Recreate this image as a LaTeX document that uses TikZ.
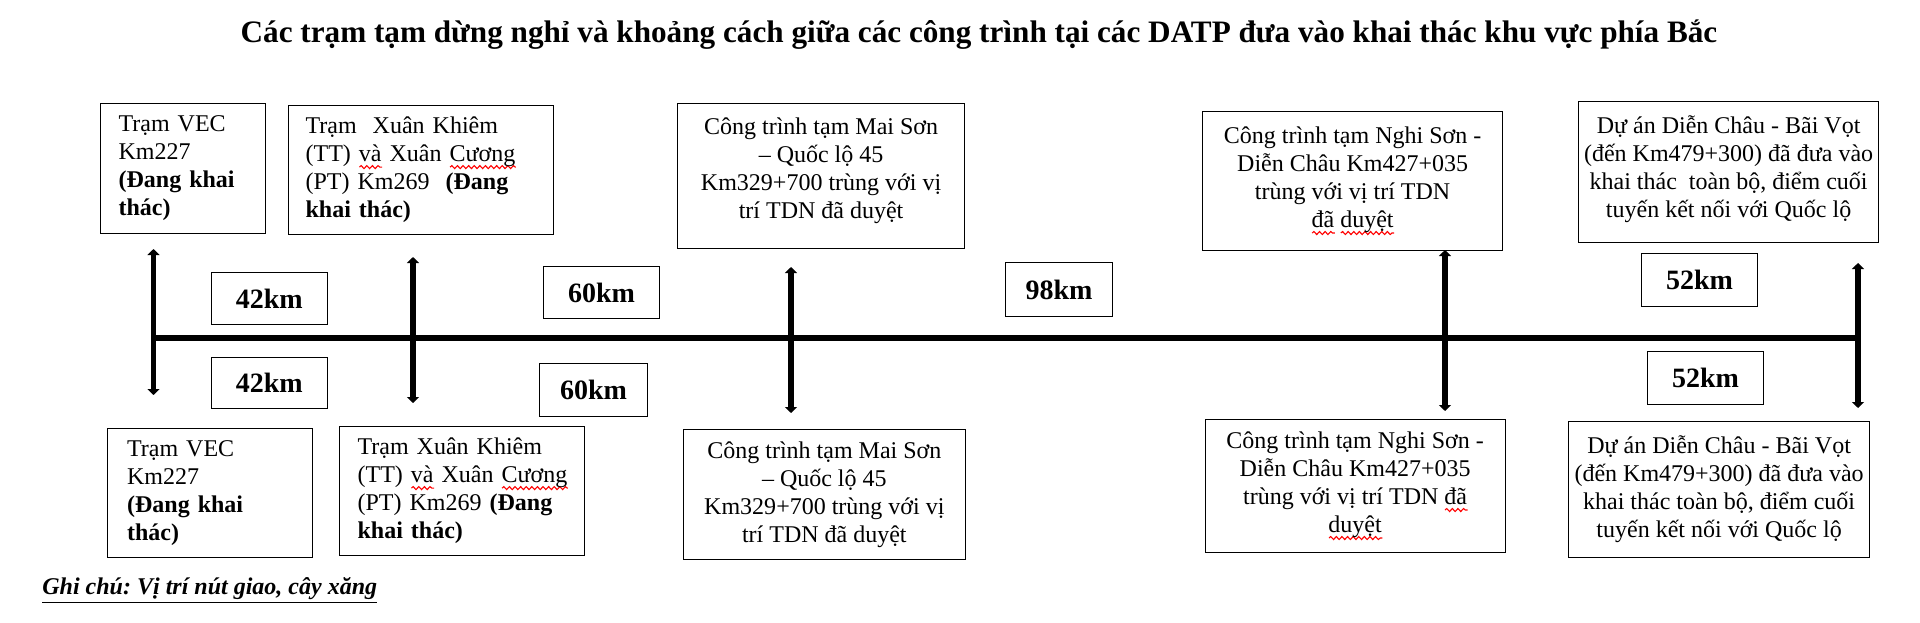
\documentclass[tikz,border=0pt]{standalone}
\usepackage{fontspec}
\setmainfont{Liberation Serif}
\usetikzlibrary{arrows.meta,decorations.pathmorphing}
\frenchspacing

\newsavebox\spellbox
\newcommand\spell[1]{\sbox\spellbox{#1}\rlap{\tikz[baseline=0pt]\draw[red, line width=0.55pt, decorate, decoration={snake, amplitude=0.75pt, segment length=2.8pt}] (0pt,-2.6pt) -- (\wd\spellbox,-2.6pt);}\usebox\spellbox}

\tikzset{
  tram/.style={draw, line width=0.6pt, anchor=north west, inner ysep=0pt, align=left, font=\fontsize{12}{14}\selectfont},
  ctr/.style={draw, line width=0.6pt, anchor=north west, inner sep=0pt, align=center, font=\fontsize{12}{14}\selectfont},
  km/.style={draw, line width=0.6pt, anchor=north west, inner sep=0pt, font=\fontsize{14}{16}\selectfont\bfseries},
  road/.style={line width=2.8pt},
  tick/.style={line width=2.8pt, {Triangle[width=6pt,length=3pt]}-{Triangle[width=6pt,length=3pt]}},
}

\begin{document}
\begin{tikzpicture}[x=0.5pt,y=-0.5pt]
			\fill[white] (0,0) rectangle (1920,622);
			\useasboundingbox (0,0) rectangle (1920,622);
			
			\node[anchor=base, font=\fontsize{15.6}{18}\selectfont\bfseries] (title) at (979,42) {Các trạm tạm dừng nghỉ và khoảng cách giữa các công trình tại các DATP đưa vào khai thác khu vực phía Bắc};
			
			% tram phia tren
			\node[tram, inner xsep=9pt, text width=64.5pt, minimum height=65pt] (vecT) at (100,103) {Trạm VEC\\Km227\\\textbf{(Đang khai}\\\textbf{thác)}};
			\node[tram, inner xsep=8.5pt, text width=115.5pt, minimum height=64.5pt] (xkT) at (288,105) {Trạm\ \ Xuân Khiêm\\\mbox{(TT) \spell{và} Xuân \spell{Cương}}\\(PT) Km269\ \ \textbf{(Đang}\\\textbf{khai thác)}};
			\node[ctr, minimum width=143.5pt, minimum height=72.5pt, text depth=8pt] (msT) at (677,103) {Công trình tạm Mai Sơn\\– Quốc lộ 45\\Km329+700 trùng với vị\\trí TDN đã duyệt};
			\node[ctr, minimum width=150pt, minimum height=69.5pt] (nsT) at (1202,111) {Công trình tạm Nghi Sơn -\\Diễn Châu Km427+035\\trùng với vị trí TDN\\\spell{đã} \spell{duyệt}};
			\node[ctr, minimum width=150pt, minimum height=70.5pt, text depth=6pt] (dcT) at (1578,101) {Dự án Diễn Châu - Bãi Vọt\\(đến Km479+300) đã đưa vào\\khai thác\ \ toàn bộ, điểm cuối\\tuyến kết nối với Quốc lộ};
			
			% tram phia duoi
			\node[tram, inner xsep=10pt, text width=82.75pt, minimum height=64.5pt] (vecB) at (106.5,428) {Trạm VEC\\Km227\\\textbf{(Đang khai}\\\textbf{thác)}};
			\node[tram, inner xsep=9pt, text width=104.5pt, minimum height=64.5pt] (xkB) at (339,426) {Trạm Xuân Khiêm\\\mbox{(TT) \spell{và} Xuân \spell{Cương}}\\(PT) Km269 \textbf{(Đang}\\\textbf{khai thác)}};
			\node[ctr, minimum width=140.75pt, minimum height=65pt] (msB) at (683,429) {Công trình tạm Mai Sơn\\– Quốc lộ 45\\Km329+700 trùng với vị\\trí TDN đã duyệt};
			\node[ctr, minimum width=150pt, minimum height=66.5pt] (nsB) at (1204.5,419) {Công trình tạm Nghi Sơn -\\Diễn Châu Km427+035\\trùng với vị trí TDN \spell{đã}\\\spell{duyệt}};
			\node[ctr, minimum width=150.5pt, minimum height=68pt] (dcB) at (1568,421) {Dự án Diễn Châu - Bãi Vọt\\(đến Km479+300) đã đưa vào\\khai thác toàn bộ, điểm cuối\\tuyến kết nối với Quốc lộ};
			
			% khoang cach
			\node[km, minimum width=58pt, minimum height=26pt] (kmA) at (210.6,272) {42km};
			\node[km, minimum width=58pt, minimum height=26pt] (kmB) at (543,266) {60km};
			\node[km, minimum width=53.5pt, minimum height=27pt] (kmC) at (1005,262) {98km};
			\node[km, minimum width=58pt, minimum height=26.5pt] (kmD) at (1641,253) {52km};
			\node[km, minimum width=58pt, minimum height=25.5pt] (kmA2) at (210.6,357) {42km};
			\node[km, minimum width=54pt, minimum height=26.5pt] (kmB2) at (539,363) {60km};
			\node[km, minimum width=58pt, minimum height=26.5pt] (kmD2) at (1647,351) {52km};
			
			% tuyen duong
			\coordinate (p1t) at (153.5,249); \coordinate (p1b) at (153.5,395);
			\coordinate (p2t) at (413,257);   \coordinate (p2b) at (413,403);
			\coordinate (p3t) at (791,267);   \coordinate (p3b) at (791,413);
			\coordinate (p4t) at (1445,250);  \coordinate (p4b) at (1445,411);
			\coordinate (p5t) at (1858,263);  \coordinate (p5b) at (1858,408);
			\coordinate (h1) at (153.5,338);  \coordinate (h5) at (1858,338);
			
			\draw[road] (h1) -- (h5);
			\draw[tick] (p1t) -- (p1b);
			\draw[tick] (p2t) -- (p2b);
			\draw[tick] (p3t) -- (p3b);
			\draw[tick] (p4t) -- (p4b);
			\draw[tick] (p5t) -- (p5b);
			
			\node[anchor=base west, inner sep=0pt, font=\fontsize{12}{14}\selectfont\bfseries\itshape] (note) at (42,594) {\underline{Ghi chú: Vị trí nút giao, cây xăng}};
\end{tikzpicture}
\end{document}
